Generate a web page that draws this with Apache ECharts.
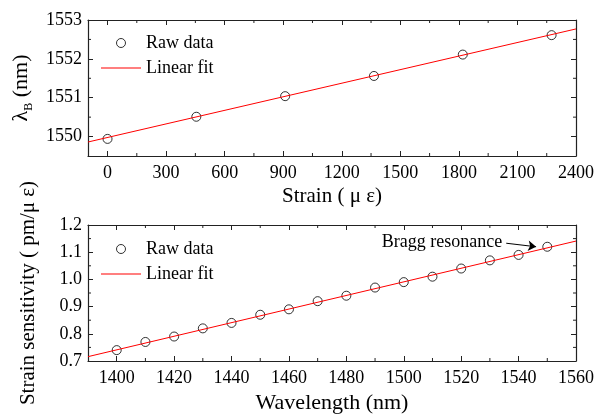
<!DOCTYPE html>
<html>
<head>
<meta charset="utf-8">
<script src="https://cdn.jsdelivr.net/npm/echarts@6/dist/echarts.min.js"></script>
<style>
    html, body { margin: 0; padding: 0; background: #fff; }
    #main { width: 597px; height: 417px; }
</style>
</head>
<body>
<div id="main"></div>
<script>
// top panel: Bragg wavelength vs strain
var strain = [0, 455, 910, 1365, 1820, 2275];
var braggWl = [1549.94, 1550.51, 1551.04, 1551.56, 1552.11, 1552.61];
var strainFitX = [-100, 2400];
var strainFitY = [1549.86, 1552.77];

// bottom panel: strain sensitivity vs wavelength
var wavelength = [1400, 1410, 1420, 1430, 1440, 1450, 1460, 1470, 1480, 1490, 1500, 1510, 1520, 1530, 1540, 1550];
var sensitivity = [0.74, 0.77, 0.79, 0.82, 0.84, 0.87, 0.89, 0.92, 0.94, 0.97, 0.99, 1.01, 1.04, 1.07, 1.09, 1.12];
var wlFitX = [1390, 1560];
var wlFitY = [0.716, 1.141];

// ticks
var strainTicks = [0, 300, 600, 900, 1200, 1500, 1800, 2100, 2400];
var strainMinor = [150, 450, 750, 1050, 1350, 1650, 1950, 2250];
var braggTicks = [1550, 1551, 1552, 1553];
var braggMinor = [1550.5, 1551.5, 1552.5];
var wlTicks = [1400, 1420, 1440, 1460, 1480, 1500, 1520, 1540, 1560];
var wlMinor = [1410, 1430, 1450, 1470, 1490, 1510, 1530, 1550];
var sensTicks = [0.7, 0.8, 0.9, 1.0, 1.1, 1.2];
var sensMinor = [0.75, 0.85, 0.95, 1.05, 1.15];

// annotation arrow (data coords)
var arrowFrom = [1535.7, 1.133];
var arrowTo = [1546.1, 1.120];

var FONT = 'Liberation Serif';
var AXIS_COLOR = '#222';

/* main axis (labels) + mirrored axis on the opposite side */
function axisPair(dim, grid, min, max, major, main) {
    var sides = dim == 'x' ? ['bottom', 'top'] : ['left', 'right'];
    return sides.map(function (side, s) {
        var ax = {
            type: 'value',
            gridIndex: grid,
            position: side,
            min: min,
            max: max,
            splitLine: { show: false },
            axisLine: { show: true, onZero: false, lineStyle: { color: AXIS_COLOR, width: 1.2 } },
            axisTick: {
                show: true,
                inside: true,
                length: 5,
                customValues: major,
                lineStyle: { color: AXIS_COLOR, width: 1 }
            },
            axisLabel: { show: false }
        };
        if (s == 0) {
            ax.axisLabel = {
                show: true,
                customValues: major,
                color: '#000',
                fontFamily: FONT,
                fontSize: 18,
                margin: dim == 'x' ? 8 : 6,
                formatter: main.fmt || function (v) { return String(v); }
            };
            ax.name = main.name;
            ax.nameLocation = 'middle';
            ax.nameGap = main.gap;
            ax.nameTextStyle = main.style;
            if (dim == 'y') ax.nameRotate = 90;
        }
        return ax;
    });
}

/* short inward minor ticks on both sides, placed through the axis scales */
function minorTicks(grid, dim, values, other) {
    return {
        type: 'custom',
        xAxisIndex: grid * 2,
        yAxisIndex: grid * 2,
        silent: true,
        clip: false,
        data: values.map(function (v) { return dim == 'x' ? [v, other] : [other, v]; }),
        renderItem: function (params, api) {
            var cs = params.coordSys;
            var pt = api.coord([api.value(0), api.value(1)]);
            var len = 3;
            var shapes;
            if (dim == 'x') {
                var b = cs.y + cs.height, t = cs.y;
                shapes = [[pt[0], b, pt[0], b - len], [pt[0], t, pt[0], t + len]];
            } else {
                var l = cs.x, r = cs.x + cs.width;
                shapes = [[l, pt[1], l + len, pt[1]], [r, pt[1], r - len, pt[1]]];
            }
            return {
                type: 'group',
                children: shapes.map(function (s) {
                    return {
                        type: 'line',
                        shape: { x1: s[0], y1: s[1], x2: s[2], y2: s[3] },
                        style: { stroke: AXIS_COLOR, lineWidth: 1 }
                    };
                })
            };
        }
    };
}

var chart = echarts.init(document.getElementById('main'));

var xAxes = [].concat(
    axisPair('x', 0, -100, 2400, strainTicks, {
        name: 'Strain ( μ ε)', gap: 30,
        style: { color: '#000', fontFamily: FONT, fontSize: 21 }
    }),
    axisPair('x', 1, 1390, 1560, wlTicks, {
        name: 'Wavelength (nm)', gap: 31,
        style: { color: '#000', fontFamily: FONT, fontSize: 22 }
    })
);

var yAxes = [].concat(
    axisPair('y', 0, 1549.5, 1553, braggTicks, {
        name: '{a|λ}{b|B}{a| (nm)}', gap: 41,
        style: {
            color: '#000', fontFamily: FONT,
            rich: {
                a: { fontFamily: FONT, fontSize: 22, color: '#000', lineHeight: 28 },
                b: { fontFamily: FONT, fontSize: 12, color: '#000', verticalAlign: 'bottom' }
            }
        }
    }),
    axisPair('y', 1, 0.7, 1.2, sensTicks, {
        name: 'Strain sensitivity ( pm/μ ε)', gap: 49,
        fmt: function (v) { return v.toFixed(1); },
        style: { color: '#000', fontFamily: FONT, fontSize: 21 }
    })
);

function pairs(xs, ys) {
    return xs.map(function (x, i) { return [x, ys[i]]; });
}

var rawStyle = { color: '#fff', borderColor: '#000', borderWidth: 1 };
var fitStyle = { color: '#ff0000', width: 1 };

var legendBase = {
    orient: 'vertical',
    left: 96,
    itemWidth: 40,
    itemHeight: 9,
    itemGap: 7,
    textStyle: { color: '#000', fontFamily: FONT, fontSize: 18 },
    data: [
        { name: 'Raw data', icon: 'circle', itemStyle: rawStyle },
        { name: 'Linear fit', icon: 'path://M0,5L40,5L40,6L0,6Z' }
    ]
};

var option = {
    backgroundColor: '#fff',
    animation: false,
    grid: [
        { left: 88, right: 20, top: 20, height: 136 },
        { left: 88, right: 20, top: 225, height: 136 }
    ],
    legend: [
        Object.assign({}, legendBase, { top: 29 }),
        Object.assign({}, legendBase, { top: 235 })
    ],
    xAxis: xAxes,
    yAxis: yAxes,
    series: [
        minorTicks(0, 'x', strainMinor, 1549.5),
        minorTicks(0, 'y', braggMinor, -100),
        minorTicks(1, 'x', wlMinor, 0.7),
        minorTicks(1, 'y', sensMinor, 1390),
        {
            name: 'Linear fit',
            type: 'line',
            xAxisIndex: 0,
            yAxisIndex: 0,
            symbol: 'none',
            itemStyle: { color: '#ff0000' },
            lineStyle: fitStyle,
            data: pairs(strainFitX, strainFitY)
        },
        {
            name: 'Raw data',
            type: 'scatter',
            xAxisIndex: 0,
            yAxisIndex: 0,
            symbol: 'circle',
            symbolSize: 9,
            itemStyle: rawStyle,
            data: pairs(strain, braggWl)
        },
        {
            name: 'Linear fit',
            type: 'line',
            xAxisIndex: 2,
            yAxisIndex: 2,
            symbol: 'none',
            itemStyle: { color: '#ff0000' },
            lineStyle: fitStyle,
            data: pairs(wlFitX, wlFitY)
        },
        {
            name: 'Raw data',
            type: 'scatter',
            xAxisIndex: 2,
            yAxisIndex: 2,
            symbol: 'circle',
            symbolSize: 9,
            itemStyle: rawStyle,
            data: pairs(wavelength, sensitivity),
            markLine: {
                silent: true,
                symbol: ['none', 'arrow'],
                symbolSize: 8,
                lineStyle: { color: '#000', width: 1, type: 'solid' },
                label: {
                    show: true,
                    position: 'start',
                    distance: 4,
                    formatter: 'Bragg resonance',
                    color: '#000',
                    fontFamily: FONT,
                    fontSize: 18
                },
                data: [[{ coord: arrowFrom }, { coord: arrowTo }]]
            }
        }
    ]
};

chart.setOption(option);
</script>
</body>
</html>
